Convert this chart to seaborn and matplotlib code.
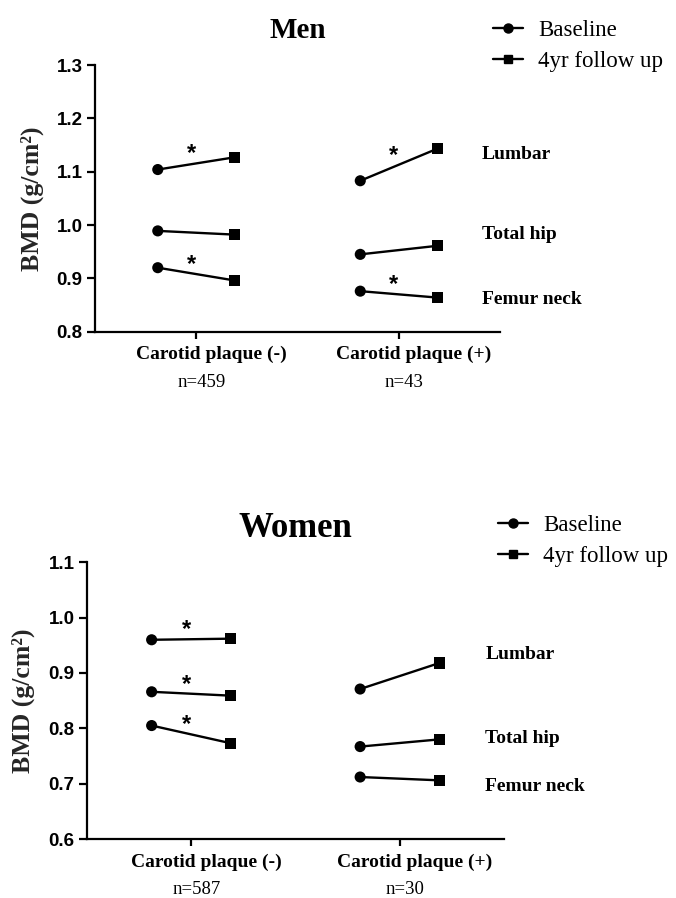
import numpy as np
import pandas as pd
import matplotlib
matplotlib.use("Agg")
import matplotlib.pyplot as plt
import matplotlib.transforms as mtransforms
from matplotlib.lines import Line2D
from matplotlib.ticker import FormatStrFormatter
import seaborn as sns

# ---------------------------------------------------------------- data
groups = ["Carotid plaque (-)", "Carotid plaque (+)"]
sites = ["Lumbar", "Total hip", "Femur neck"]
timepoints = ["Baseline", "4yr follow up"]

men_n = [459, 43]
men_baseline_neg = [1.104, 0.989, 0.920]
men_followup_neg = [1.127, 0.982, 0.896]
men_baseline_pos = [1.083, 0.945, 0.876]
men_followup_pos = [1.143, 0.961, 0.864]
men_signif_neg = [True, False, True]
men_signif_pos = [True, False, True]

women_n = [587, 30]
women_baseline_neg = [0.960, 0.866, 0.805]
women_followup_neg = [0.962, 0.859, 0.773]
women_baseline_pos = [0.871, 0.767, 0.712]
women_followup_pos = [0.918, 0.780, 0.706]
women_signif_neg = [True, True, True]
women_signif_pos = [False, False, False]

men_yticks = [0.8, 0.9, 1.0, 1.1, 1.2, 1.3]
women_yticks = [0.6, 0.7, 0.8, 0.9, 1.0, 1.1]

# ---------------------------------------------------------------- layout
DPI = 100
DODGE = 0.19
SERIF = ["Liberation Serif", "DejaVu Serif"]
SANS = ["Liberation Sans", "DejaVu Sans"]

sns.set_theme(style="ticks")
plt.rcParams.update({
    "font.family": SANS,
    "axes.edgecolor": "black",
    "axes.linewidth": 1.6,
    "xtick.color": "black",
    "ytick.color": "black",
    "xtick.major.width": 1.6,
    "ytick.major.width": 1.6,
    "xtick.major.size": 5,
    "ytick.major.size": 6,
    "ytick.major.pad": 3,
    "text.color": "black",
})

fig = plt.figure(figsize=(6.76, 8.98), dpi=DPI)


def px(dx, dy):
    return mtransforms.ScaledTranslation(dx / DPI, dy / DPI, fig.dpi_scale_trans)


def long_table(baseline_neg, followup_neg, baseline_pos, followup_pos):
    rows = []
    pairs = [(baseline_neg, followup_neg), (baseline_pos, followup_pos)]
    for gi, (base, foll) in enumerate(pairs):
        for si, site in enumerate(sites):
            for ti, vals in enumerate((base, foll)):
                rows.append({"group": groups[gi], "gidx": gi, "site": site,
                             "time": timepoints[ti], "bmd": vals[si]})
    df = pd.DataFrame(rows)
    df["x"] = df["gidx"] + df["time"].map({timepoints[0]: -DODGE, timepoints[1]: DODGE})
    df["unit"] = df["group"] + " | " + df["site"]
    return df


def draw_panel(rect, title, title_size, n_values, table, signif, ylim, yticks,
               site_label_y, legend_xy):
    ax = fig.add_axes(rect)
    sns.lineplot(data=table, x="x", y="bmd", units="unit", estimator=None,
                 color="black", linewidth=1.7, legend=False, ax=ax)
    sns.scatterplot(data=table, x="x", y="bmd", style="time",
                    markers={timepoints[0]: "o", timepoints[1]: "s"},
                    color="black", edgecolor="black", linewidth=0, s=64,
                    legend=False, ax=ax, zorder=3)

    ax.set_xlim(-0.5, 1.5)
    ax.set_ylim(*ylim)
    ax.set_yticks(yticks)
    ax.yaxis.set_major_formatter(FormatStrFormatter("%.1f"))
    for lab in ax.get_yticklabels():
        lab.set_fontsize(13.5)
        lab.set_fontweight("bold")
    ax.set_xticks([0, 1])
    ax.set_xticklabels([])
    ax.set_xlabel("")
    ax.set_ylabel("BMD (g/cm²)", fontsize=18.5, fontweight="bold", family=SERIF)
    ax.yaxis.set_label_coords(-0.125, 0.5)
    sns.despine(ax=ax)

    xt = ax.get_xaxis_transform()
    for gi, (grp, n) in enumerate(zip(groups, n_values)):
        ax.text(gi, 0, grp, transform=xt + px(15, -23), ha="center", va="center",
                fontsize=14, fontweight="bold", family=SERIF)
        ax.text(gi, 0, f"n={n}", transform=xt + px(5, -51), ha="center", va="center",
                fontsize=13.5, family=SERIF)

    # significance marks above changed lines
    for gi, flags in enumerate(signif):
        for si, flag in enumerate(flags):
            if not flag:
                continue
            sub = table[(table["gidx"] == gi) & (table["site"] == sites[si])]
            mid = sub["bmd"].mean()
            ax.text(gi, mid, "*", transform=ax.transData + px(-5, 3),
                    ha="center", va="baseline", fontsize=17, fontweight="bold",
                    family=SANS)

    for site, y in zip(sites, site_label_y):
        ax.text(1.41, y, site, ha="left", va="center", fontsize=14,
                fontweight="bold", family=SERIF, clip_on=False)

    ax.text(0.5, 1, title, transform=ax.transAxes + px(0, 34), ha="center",
            va="center", fontsize=title_size, fontweight="bold", family=SERIF)

    handles = [
        Line2D([], [], color="black", lw=1.7, marker="o", markersize=6.5),
        Line2D([], [], color="black", lw=1.7, marker="s", markersize=6),
    ]
    ax.legend(handles, timepoints, loc="upper left", bbox_to_anchor=legend_xy,
              bbox_transform=fig.transFigure, frameon=False, borderpad=0,
              borderaxespad=0, handlelength=1.3, handletextpad=0.66,
              labelspacing=0.42, prop={"family": SERIF, "size": 16.5})
    return ax


W, H = 676, 898
men_table = long_table(men_baseline_neg, men_followup_neg, men_baseline_pos, men_followup_pos)
women_table = long_table(women_baseline_neg, women_followup_neg,
                         women_baseline_pos, women_followup_pos)

draw_panel([95 / W, 1 - 331.7 / H, 405 / W, 266.7 / H], "Men", 21, men_n, men_table,
           [men_signif_neg, men_signif_pos], (0.8, 1.3), men_yticks,
           [1.1315, 0.9815, 0.8605], (493 / W, 1 - 20 / H))
draw_panel([87 / W, 1 - 839 / H, 417 / W, 276.7 / H], "Women", 25, women_n, women_table,
           [women_signif_neg, women_signif_pos], (0.6, 1.1), women_yticks,
           [0.9325, 0.7825, 0.6955], (498 / W, 1 - 515 / H))

fig.savefig("out.png", dpi=DPI)
